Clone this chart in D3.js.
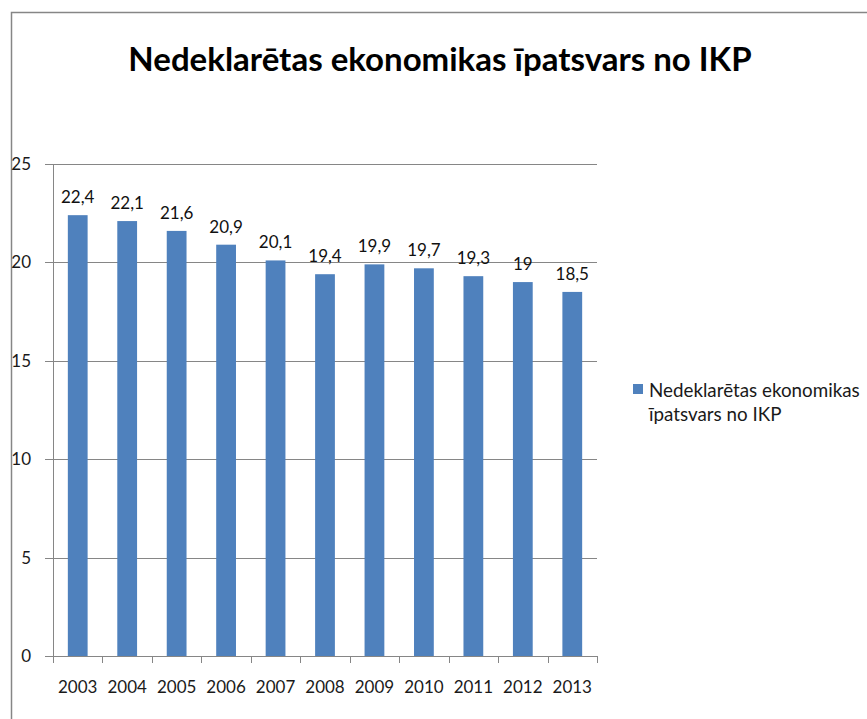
<!DOCTYPE html>
<html>
<head>
<meta charset="utf-8">
<script src="https://cdn.jsdelivr.net/npm/d3@7"></script>
<style>
  body { margin: 0; background: #fff; }
  svg { display: block; }
</style>
</head>
<body>
<svg id="chart" width="867" height="719"></svg>
<script>
const years = ["2003","2004","2005","2006","2007","2008","2009","2010","2011","2012","2013"];
const values = [22.4, 22.1, 21.6, 20.9, 20.1, 19.4, 19.9, 19.7, 19.3, 19, 18.5];
const yTicks = [0, 5, 10, 15, 20, 25];
const title = "Nedeklarētas ekonomikas īpatsvars no IKP";
const seriesName = ["Nedeklarētas ekonomikas", "īpatsvars no IKP"];

const font = "Lato, 'Open Sans', sans-serif";
const svg = d3.select("#chart");

// outer chart border
svg.append("rect")
  .attr("x", 11.5).attr("y", 12.5)
  .attr("width", 900).attr("height", 800)
  .attr("fill", "none")
  .attr("stroke", "#868686")
  .attr("stroke-width", 1.5);

const plotLeft = 53, plotRight = 597, plotTop = 164, plotBottom = 656;

const x = d3.scaleBand().domain(years).range([plotLeft, plotRight]).paddingInner(0.6).paddingOuter(0.3);
const y = d3.scaleLinear().domain([0, 25]).range([plotBottom, plotTop]);

// gridlines
svg.append("g")
  .selectAll("line")
  .data(yTicks)
  .enter()
  .append("line")
  .attr("x1", plotLeft - 8)
  .attr("x2", plotRight)
  .attr("y1", d => Math.round(y(d)) + 0.5)
  .attr("y2", d => Math.round(y(d)) + 0.5)
  .attr("stroke", "#868686")
  .attr("stroke-width", 1);

// y axis line
svg.append("line")
  .attr("x1", plotLeft + 0.5).attr("x2", plotLeft + 0.5)
  .attr("y1", plotTop).attr("y2", plotBottom)
  .attr("stroke", "#868686");

// y labels
svg.append("g")
  .selectAll("text")
  .data(yTicks)
  .enter()
  .append("text")
  .attr("x", 31)
  .attr("y", d => y(d) + 6)
  .attr("text-anchor", "end")
  .attr("font-family", font)
  .attr("font-size", 17)
  .attr("fill", "#1a1a1a")
  .text(d => d);

// bars
svg.append("g")
  .selectAll("rect")
  .data(values)
  .enter()
  .append("rect")
  .attr("x", (d, i) => x(years[i]))
  .attr("y", d => y(d))
  .attr("width", x.bandwidth())
  .attr("height", d => plotBottom - y(d))
  .attr("fill", "#4F81BD");

// data labels
svg.append("g")
  .selectAll("text")
  .data(values)
  .enter()
  .append("text")
  .attr("x", (d, i) => x(years[i]) + x.bandwidth() / 2)
  .attr("y", d => y(d) - 12)
  .attr("text-anchor", "middle")
  .attr("font-family", font)
  .attr("font-size", 17)
  .attr("fill", "#111")
  .text(d => String(d).replace(".", ","));

// x axis line and ticks
const step = (plotRight - plotLeft) / years.length;
svg.append("line")
  .attr("x1", plotLeft).attr("x2", plotRight)
  .attr("y1", plotBottom + 0.5).attr("y2", plotBottom + 0.5)
  .attr("stroke", "#868686");
svg.append("g")
  .selectAll("line")
  .data(d3.range(years.length + 1))
  .enter()
  .append("line")
  .attr("x1", i => Math.round(plotLeft + i * step) + 0.5)
  .attr("x2", i => Math.round(plotLeft + i * step) + 0.5)
  .attr("y1", plotBottom)
  .attr("y2", plotBottom + 7)
  .attr("stroke", "#868686");

// x labels
svg.append("g")
  .selectAll("text")
  .data(years)
  .enter()
  .append("text")
  .attr("x", d => x(d) + x.bandwidth() / 2)
  .attr("y", 693)
  .attr("text-anchor", "middle")
  .attr("font-family", font)
  .attr("font-size", 17)
  .attr("fill", "#1a1a1a")
  .text(d => d);

// title
svg.append("text")
  .attr("x", 440)
  .attr("y", 71)
  .attr("text-anchor", "middle")
  .attr("font-family", font)
  .attr("font-weight", "bold")
  .attr("font-size", 33)
  .attr("fill", "#000")
  .text(title);

// legend
svg.append("rect")
  .attr("x", 633).attr("y", 384)
  .attr("width", 10).attr("height", 10)
  .attr("fill", "#4F81BD");
svg.append("g")
  .selectAll("text")
  .data(seriesName)
  .enter()
  .append("text")
  .attr("x", 649)
  .attr("y", (d, i) => 397 + i * 24)
  .attr("font-family", font)
  .attr("font-size", 18.8)
  .attr("fill", "#1a1a1a")
  .text(d => d);
</script>
</body>
</html>
